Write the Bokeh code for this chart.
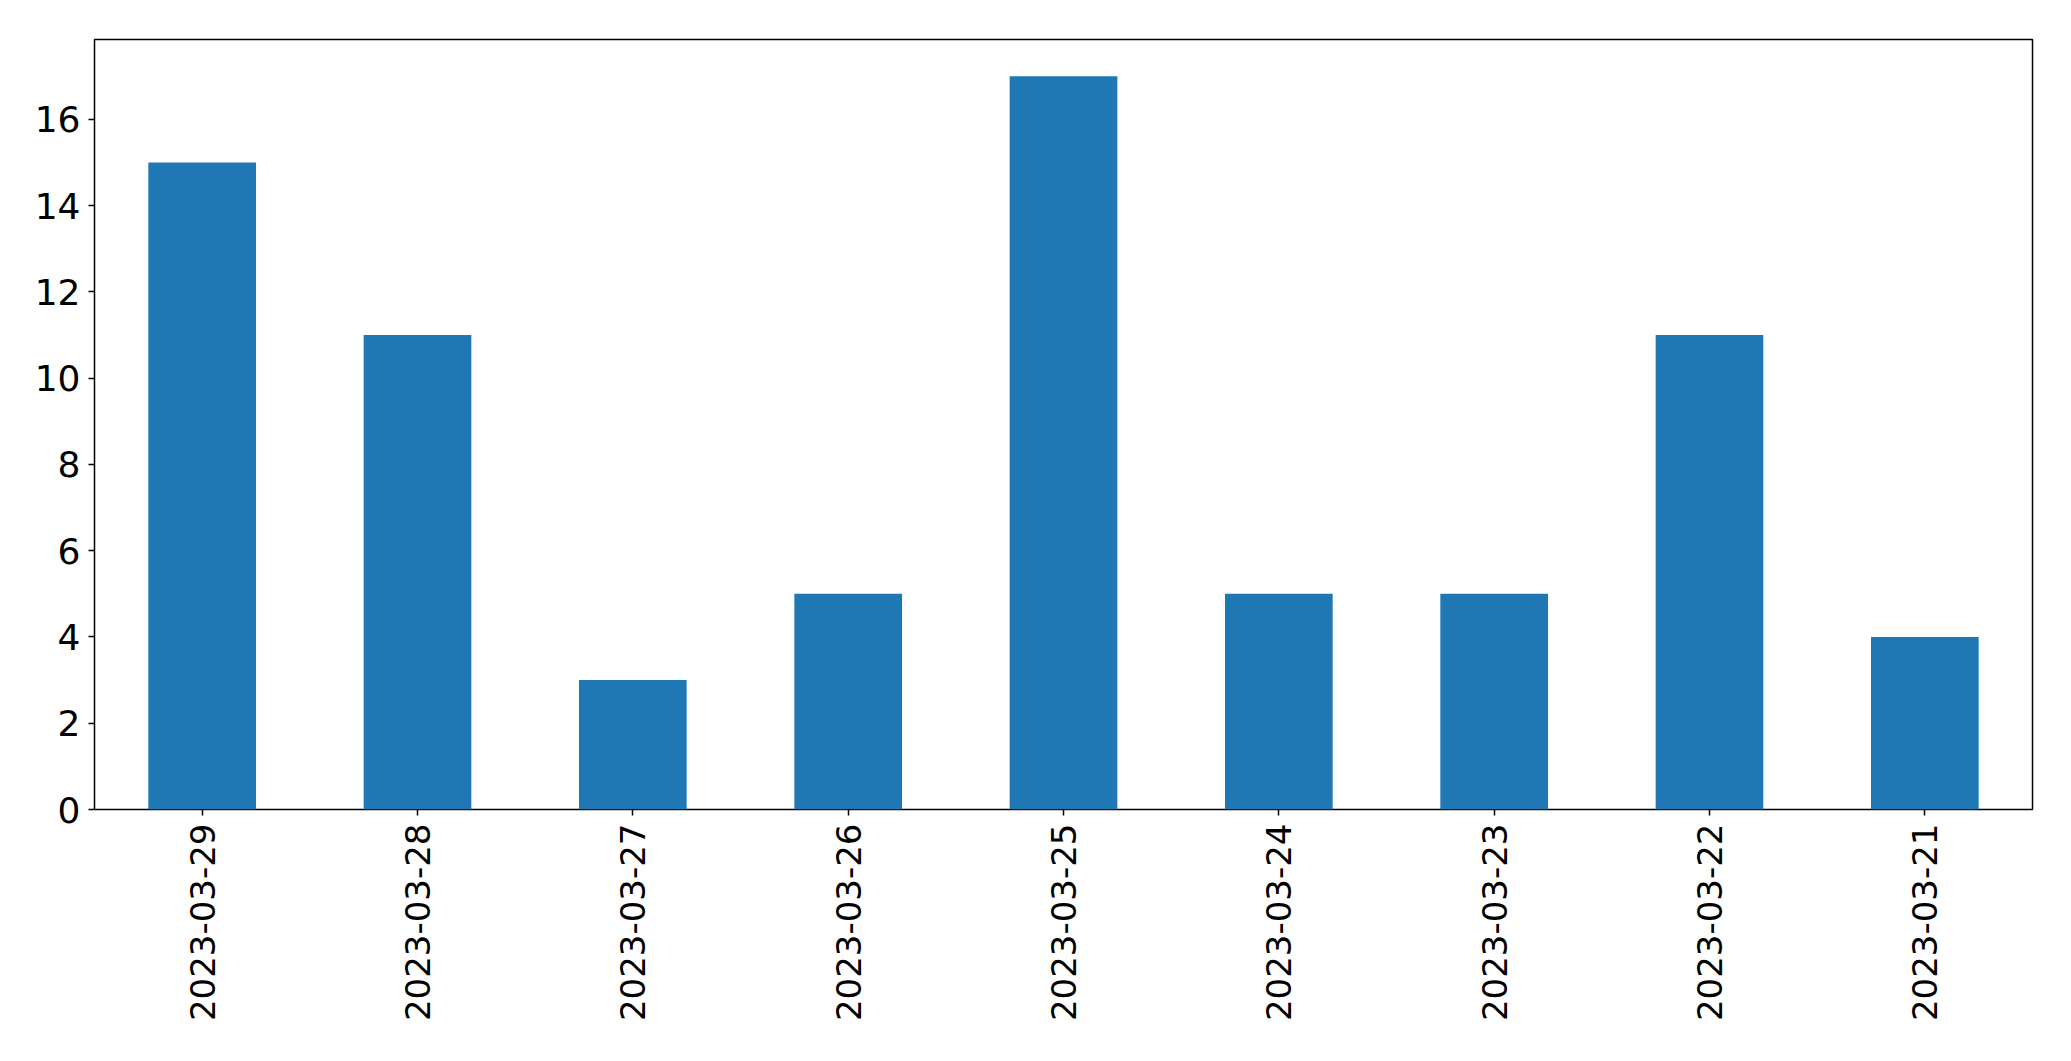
import math
from bokeh.plotting import figure
from bokeh.models import ColumnDataSource, Range1d, FixedTicker
from bokeh.embed import file_html
from bokeh.resources import INLINE

# Data
dates = ['2023-03-29', '2023-03-28', '2023-03-27', '2023-03-26', '2023-03-25',
         '2023-03-24', '2023-03-23', '2023-03-22', '2023-03-21']
counts = [15, 11, 3, 5, 17, 5, 5, 11, 4]
y_ticks = [0, 2, 4, 6, 8, 10, 12, 14, 16]

source = ColumnDataSource(data=dict(dates=dates, counts=counts))

p = figure(width=2055, height=1045, x_range=dates, y_range=Range1d(0, 17.85),
           output_backend="svg", toolbar_location=None,
           min_border_left=94, min_border_right=23, min_border_top=39, min_border_bottom=236)

p.vbar(x='dates', top='counts', width=0.5, source=source,
       fill_color='#1f77b4', line_color=None)

p.xgrid.visible = False
p.ygrid.visible = False
p.outline_line_color = 'black'
p.outline_line_width = 1.5
p.outline_line_alpha = 1

for ax in (p.xaxis, p.yaxis):
    ax.axis_line_color = None
    ax.major_tick_line_color = 'black'
    ax.major_tick_line_width = 1.5
    ax.major_tick_out = 6
    ax.major_tick_in = 0
    ax.minor_tick_line_color = None
    ax.major_label_text_font = "DejaVu Sans"
    ax.major_label_text_color = 'black'
    ax.major_label_standoff = 8

p.yaxis.major_label_text_font_size = "36px"
p.xaxis.major_label_text_font_size = "34px"
p.yaxis.ticker = FixedTicker(ticks=y_ticks)
p.xaxis.major_label_orientation = math.pi / 2

open("out.html", "w").write(file_html(p, INLINE))
